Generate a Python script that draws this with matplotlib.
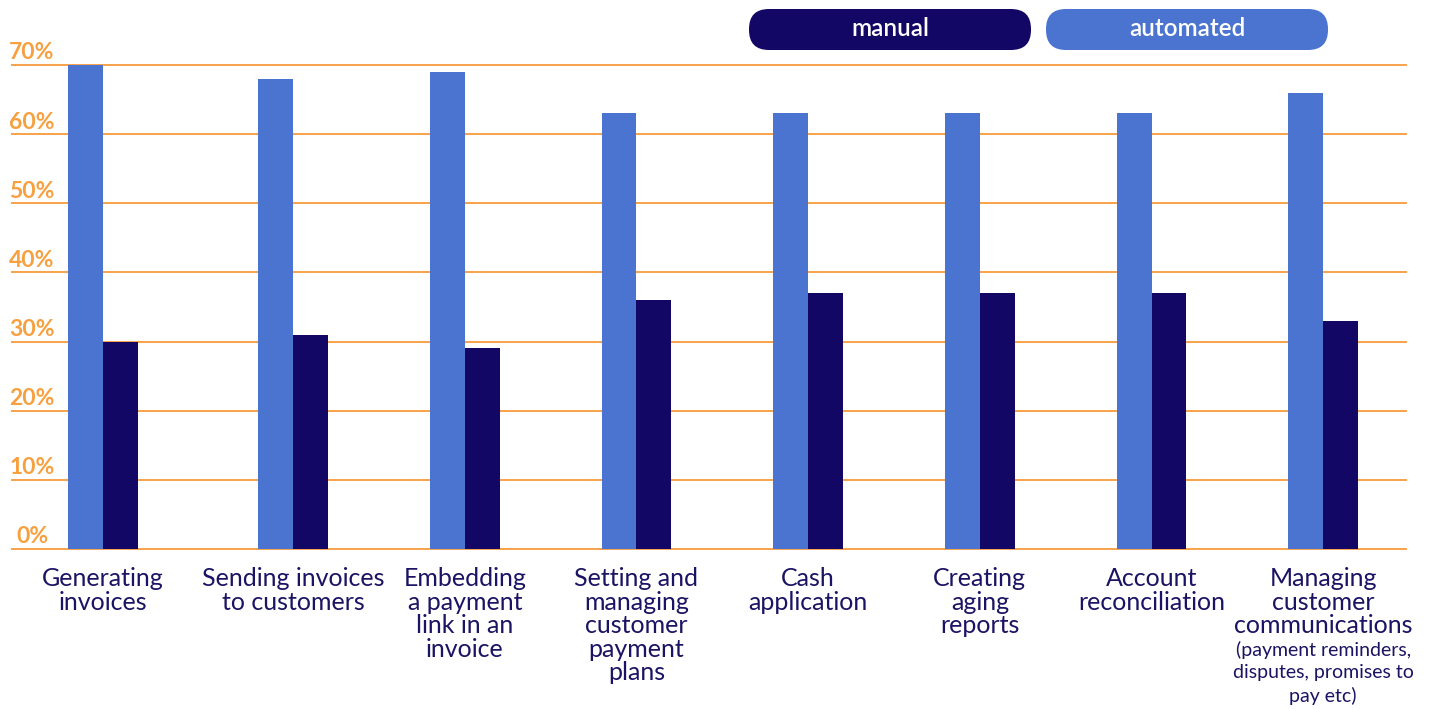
import matplotlib.pyplot as plt
import numpy as np
from matplotlib.patches import FancyBboxPatch
from matplotlib.transforms import blended_transform_factory

# data
categories = [
    'Generating\ninvoices',
    'Sending invoices\nto customers',
    'Embedding\na payment\nlink in an\ninvoice',
    'Setting and\nmanaging\ncustomer\npayment\nplans',
    'Cash\napplication',
    'Creating\naging\nreports',
    'Account\nreconciliation',
    'Managing\ncustomer\ncommunications',
]
automated = [70, 68, 69, 63, 63, 63, 63, 66]
manual = [30, 31, 29, 36, 37, 37, 37, 33]
y_ticks = [0, 10, 20, 30, 40, 50, 60, 70]
y_tick_labels = ['0%', '10%', '20%', '30%', '40%', '50%', '60%', '70%']
last_note = '(payment reminders,\ndisputes, promises to\npay etc)'
legend_labels = ['manual', 'automated']

# style
C_AUTO = '#4a74cf'
C_MAN = '#130765'
C_GRID = '#f8a24a'
C_TICK = '#f7a040'
C_TEXT = '#1b1363'
FONT = 'Lato'
plt.rcParams['font.family'] = [FONT, 'DejaVu Sans']

W, H = 1435, 709
fig = plt.figure(figsize=(W / 100, H / 100), dpi=100)
ax = fig.add_axes([12 / W, (H - 549) / H, (1406 - 12) / W, (549 - 65) / H])

x = np.arange(len(categories), dtype=float)
x[0] -= 0.107  # first group sits a bit closer to the axis
bw = 0.203

ax.bar(x - bw / 2, automated, bw, color=C_AUTO, zorder=3)
ax.bar(x + bw / 2, manual, bw, color=C_MAN, zorder=3)

ax.set_xlim(-0.637, 7.482)
ax.set_ylim(0, 70)
for t in y_ticks:
    ax.axhline(t, color=C_GRID, lw=1.4, zorder=1, clip_on=False)
for s in ax.spines.values():
    s.set_visible(False)
ax.set_xticks([])
ax.set_yticks([])

# y labels sit just above each gridline
tr = blended_transform_factory(ax.transAxes, ax.transData)
for t, lab in zip(y_ticks, y_tick_labels):
    ax.annotate(lab, xy=(20 / 1394, t), xycoords=tr, xytext=(0, 4),
                textcoords='offset points', ha='center', va='baseline',
                fontsize=16.5, fontweight='bold', color=C_TICK)

# category labels under the bars
for xi, cat in zip(x, categories):
    ax.annotate(cat, xy=(xi, 0), xycoords=('data', 'data'), xytext=(0, -13),
                textcoords='offset points', ha='center', va='top',
                fontsize=18, color=C_TEXT, linespacing=1.03)
ax.annotate(last_note, xy=(x[-1], 0), xycoords=('data', 'data'), xytext=(0, -66),
            textcoords='offset points', ha='center', va='top',
            fontsize=14, color=C_TEXT, linespacing=1.38)

# pill-shaped legend
pills = [(7.49, C_MAN), (10.46, C_AUTO)]
for (px, col), lab in zip(pills, legend_labels):
    box = FancyBboxPatch((px, 6.59), 2.82, 0.41,
                         boxstyle='round,pad=0,rounding_size=0.2',
                         transform=fig.dpi_scale_trans, facecolor=col,
                         edgecolor='none')
    fig.patches.append(box)
    fig.text((px + 1.41) * 100 / W, 6.80 * 100 / H, lab, ha='center', va='center',
             fontsize=17.5, fontweight='semibold', color='white')

fig.savefig('out.png', dpi=100)
